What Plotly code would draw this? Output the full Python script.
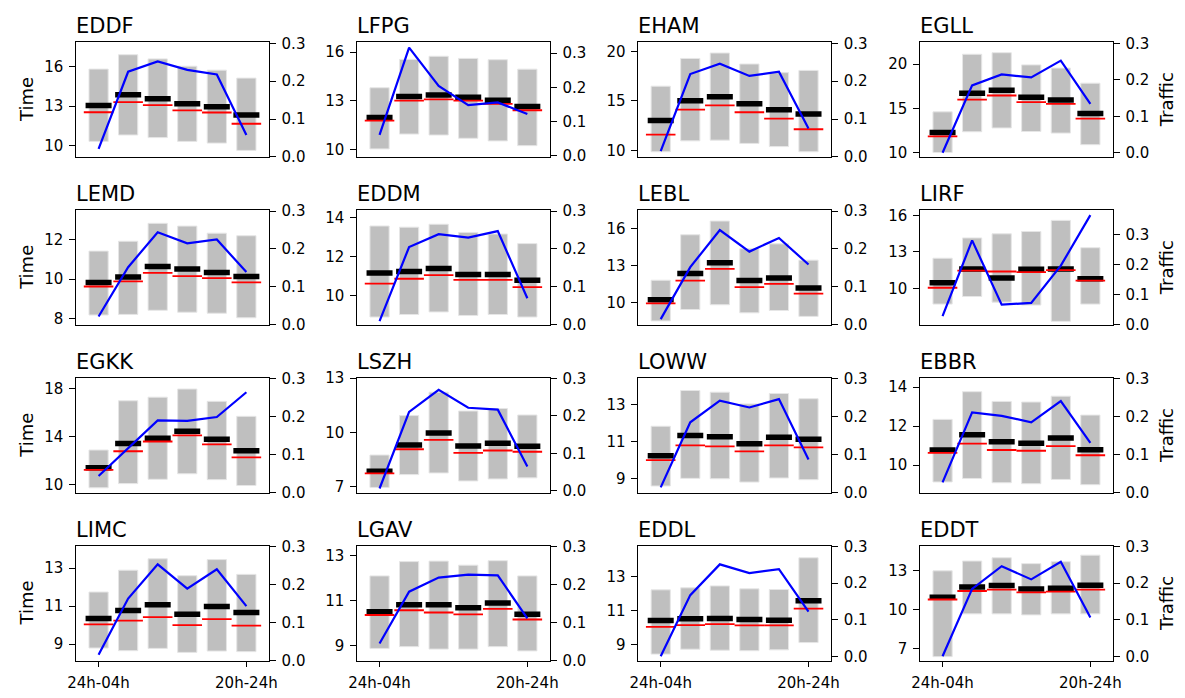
import plotly.graph_objects as go

# Airports, one panel each (4 x 4 grid, row-major)
airports = ["EDDF", "LFPG", "EHAM", "EGLL",
            "LEMD", "EDDM", "LEBL", "LIRF",
            "EGKK", "LSZH", "LOWW", "EBBR",
            "LIMC", "LGAV", "EDDL", "EDDT"]

# Six 4-hour slots; only the first and last are labelled
slot_pos = [0, 1, 2, 3, 4, 5]
slot_tick_pos = [0, 5]
slot_tick_text = ["24h-04h", "20h-24h"]

# Time spread per slot (grey bars: low..high)
time_low = [
    [10.30, 10.79, 10.59, 10.30, 10.17, 9.61],
    [10.06, 10.97, 10.91, 10.71, 10.55, 10.26],
    [9.87, 10.97, 11.04, 10.71, 10.39, 9.87],
    [10.00, 12.35, 12.78, 12.38, 12.20, 10.89],
    [8.17, 8.20, 8.41, 8.31, 8.26, 8.03],
    [8.92, 9.05, 9.18, 9.00, 9.05, 8.92],
    [8.49, 9.42, 9.81, 9.15, 9.34, 8.86],
    [8.73, 9.35, 8.89, 8.65, 7.32, 8.73],
    [9.73, 10.08, 10.44, 10.90, 10.41, 9.92],
    [6.97, 7.68, 7.77, 7.33, 7.44, 7.50],
    [8.61, 9.02, 9.00, 8.82, 9.04, 8.95],
    [9.14, 9.32, 9.10, 9.05, 9.27, 9.00],
    [8.79, 8.65, 8.77, 8.56, 8.63, 8.60],
    [8.88, 8.96, 8.85, 8.85, 8.96, 8.77],
    [8.42, 8.71, 8.65, 8.62, 8.67, 9.10],
    [6.40, 9.68, 9.68, 9.60, 9.68, 9.68],
]
time_high = [
    [15.83, 16.93, 16.61, 16.05, 15.75, 15.14],
    [13.81, 15.55, 15.74, 15.61, 15.53, 14.95],
    [16.49, 19.29, 19.84, 18.73, 17.86, 18.08],
    [14.60, 21.11, 21.29, 19.91, 19.55, 17.84],
    [11.42, 11.92, 12.83, 12.69, 12.33, 12.20],
    [13.58, 13.52, 13.67, 13.25, 13.17, 12.68],
    [11.81, 15.52, 16.64, 14.38, 14.78, 13.45],
    [12.49, 14.15, 14.49, 14.68, 15.59, 13.35],
    [12.88, 16.99, 17.29, 17.97, 16.94, 15.69],
    [8.76, 10.94, 12.23, 11.19, 11.33, 10.97],
    [11.82, 13.74, 13.65, 13.02, 13.58, 13.30],
    [12.35, 13.77, 13.27, 13.24, 13.54, 12.57],
    [11.74, 12.89, 13.49, 12.60, 13.45, 12.67],
    [12.11, 12.75, 12.77, 12.59, 12.79, 12.11],
    [12.21, 12.33, 12.44, 12.27, 12.23, 14.10],
    [12.98, 13.73, 13.98, 13.53, 13.68, 14.18],
]
# Mean time per slot (thick black marks)
time_mean = [
    [13.05, 13.86, 13.57, 13.17, 12.95, 12.31],
    [11.99, 13.28, 13.36, 13.22, 13.04, 12.66],
    [13.02, 15.03, 15.42, 14.71, 14.12, 13.67],
    [12.27, 16.71, 17.04, 16.24, 15.95, 14.42],
    [9.82, 10.10, 10.64, 10.51, 10.33, 10.13],
    [11.17, 11.25, 11.40, 11.10, 11.10, 10.80],
    [10.21, 12.36, 13.24, 11.78, 11.99, 11.17],
    [10.47, 11.61, 10.87, 11.59, 11.61, 10.81],
    [11.41, 13.43, 13.86, 14.44, 13.78, 12.83],
    [7.87, 9.32, 9.98, 9.26, 9.41, 9.24],
    [10.23, 11.32, 11.25, 10.88, 11.23, 11.12],
    [10.78, 11.56, 11.20, 11.13, 11.40, 10.79],
    [10.35, 10.76, 11.07, 10.57, 10.98, 10.66],
    [10.51, 10.83, 10.83, 10.69, 10.90, 10.40],
    [10.40, 10.50, 10.52, 10.46, 10.42, 11.56],
    [10.95, 11.73, 11.85, 11.58, 11.65, 11.88],
]
# Median time per slot (thin red marks)
time_median = [
    [12.53, 13.30, 13.07, 12.68, 12.51, 11.65],
    [11.80, 13.02, 13.10, 13.02, 12.82, 12.43],
    [11.59, 14.12, 14.55, 13.86, 13.21, 12.14],
    [11.84, 15.98, 16.45, 15.69, 15.51, 13.84],
    [9.62, 9.88, 10.31, 10.15, 10.05, 9.83],
    [10.63, 10.88, 11.07, 10.82, 10.82, 10.45],
    [9.92, 11.78, 12.73, 11.25, 11.51, 10.72],
    [10.07, 11.48, 11.40, 11.35, 11.51, 10.65],
    [11.22, 12.78, 13.59, 14.11, 13.35, 12.26],
    [7.75, 9.08, 9.60, 8.88, 9.01, 8.94],
    [10.00, 10.79, 10.74, 10.47, 10.79, 10.68],
    [10.63, 11.11, 10.78, 10.74, 10.98, 10.51],
    [10.04, 10.23, 10.42, 10.00, 10.31, 9.97],
    [10.37, 10.58, 10.48, 10.40, 10.64, 10.17],
    [10.02, 10.13, 10.19, 10.12, 10.12, 11.10],
    [10.78, 11.43, 11.53, 11.33, 11.38, 11.53],
]
# Traffic share per slot (blue line, right axis)
traffic = [
    [0.021, 0.225, 0.252, 0.230, 0.218, 0.058],
    [0.061, 0.316, 0.204, 0.148, 0.156, 0.122],
    [0.015, 0.219, 0.246, 0.214, 0.225, 0.075],
    [0.000, 0.185, 0.215, 0.207, 0.253, 0.134],
    [0.022, 0.152, 0.244, 0.215, 0.225, 0.139],
    [0.010, 0.205, 0.239, 0.230, 0.247, 0.070],
    [0.015, 0.152, 0.250, 0.193, 0.229, 0.159],
    [0.029, 0.281, 0.067, 0.073, 0.197, 0.365],
    [0.044, 0.118, 0.190, 0.189, 0.199, 0.264],
    [0.006, 0.211, 0.270, 0.222, 0.217, 0.065],
    [0.014, 0.185, 0.242, 0.224, 0.246, 0.087],
    [0.027, 0.211, 0.202, 0.185, 0.241, 0.131],
    [0.015, 0.163, 0.253, 0.189, 0.240, 0.143],
    [0.045, 0.181, 0.218, 0.226, 0.224, 0.111],
    [0.000, 0.167, 0.251, 0.227, 0.238, 0.122],
    [0.000, 0.184, 0.246, 0.210, 0.258, 0.106],
]

# Left-axis tick values per panel
time_ticks = [
    [10, 13, 16], [10, 13, 16], [10, 15, 20], [10, 15, 20],
    [8, 10, 12], [10, 12, 14], [10, 13, 16], [10, 13, 16],
    [10, 14, 18], [7, 10, 13], [9, 11, 13], [10, 12, 14],
    [9, 11, 13], [9, 11, 13], [9, 11, 13], [7, 10, 13],
]
traffic_ticks = [0.0, 0.1, 0.2, 0.3]

# Axis view limits per panel
time_range = [
    [9.115, 17.87], [9.57, 16.59], [9.35, 20.91], [9.51, 22.45],
    [7.67, 13.49], [8.52, 14.38], [8.17, 17.51], [7.03, 16.41],
    [9.32, 18.87], [6.68, 13.0], [8.25, 14.40], [8.59, 14.46],
    [8.13, 14.16], [8.34, 13.44], [8.04, 14.79], [6.10, 14.875],
]
traffic_range = [
    [0.0, 0.3025], [-0.003, 0.331], [0.0, 0.3025], [-0.0115, 0.303],
    [0.0, 0.3017], [0.0, 0.3017], [0.0, 0.3017], [0.0, 0.381],
    [0.0, 0.3009], [-0.0052, 0.301], [0.0, 0.3009], [0.0, 0.3009],
    [0.0, 0.3009], [0.0, 0.3009], [-0.0116, 0.3009], [-0.0116, 0.3009],
]

W, H = 1185, 698
col_left = [68.0, 353.3, 638.8, 925.0]
panel_w = 196.0
row_top = [34.3, 206.7, 379.0, 551.3]
panel_h = 117.5
x_range = [-0.765, 5.765]
time_label_x = 17.5      # px, centre of the left axis label
traffic_label_x = 1175.5  # px, centre of the right axis label

FONT = "DejaVu Sans"
TICK_FS = 15
TITLE_FS = 21
LABEL_FS = 18


def segments(values, half):
    xs, ys = [], []
    for p, v in zip(slot_pos, values):
        xs += [p - half, p + half, None]
        ys += [v, v, None]
    return xs, ys


fig = go.Figure()
layout = dict(
    width=W, height=H,
    margin=dict(l=0, r=0, t=0, b=0),
    paper_bgcolor="white", plot_bgcolor="white",
    showlegend=False,
    font=dict(family=FONT, size=TICK_FS, color="black"),
    annotations=[],
)

for k, name in enumerate(airports):
    r, c = divmod(k, 4)
    xi = k + 1
    yl = 2 * k + 1
    yr = 2 * k + 2
    xname = "x" if xi == 1 else f"x{xi}"
    ylname = "y" if yl == 1 else f"y{yl}"
    yrname = f"y{yr}"

    low = time_low[k]
    high = time_high[k]
    fig.add_trace(go.Bar(
        x=slot_pos, y=[h - l for h, l in zip(high, low)], base=low,
        width=0.65, marker=dict(color="#bfbfbf", line=dict(color="#e6e6e6", width=1)),
        xaxis=xname, yaxis=ylname, hoverinfo="skip"))
    mx, my = segments(time_mean[k], 0.44)
    fig.add_trace(go.Scatter(
        x=mx, y=my, mode="lines", line=dict(color="black", width=5.5),
        xaxis=xname, yaxis=ylname, hoverinfo="skip"))
    rx, ry = segments(time_median[k], 0.5)
    fig.add_trace(go.Scatter(
        x=rx, y=ry, mode="lines", line=dict(color="red", width=1.8),
        xaxis=xname, yaxis=ylname, hoverinfo="skip"))
    fig.add_trace(go.Scatter(
        x=slot_pos, y=traffic[k], mode="lines", line=dict(color="blue", width=2.2),
        xaxis=xname, yaxis=yrname, hoverinfo="skip"))

    x0 = col_left[c] / W
    x1 = (col_left[c] + panel_w) / W
    y1 = 1 - row_top[r] / H
    y0 = 1 - (row_top[r] + panel_h) / H
    bottom_row = r == 3

    xkey = "xaxis" if xi == 1 else f"xaxis{xi}"
    layout[xkey] = dict(
        domain=[x0, x1], anchor=ylname, range=x_range,
        showgrid=False, zeroline=False,
        showline=True, linecolor="black", linewidth=1.2, mirror=True,
        tickmode="array",
        tickvals=slot_tick_pos if bottom_row else [],
        ticktext=slot_tick_text if bottom_row else [],
        ticks="outside" if bottom_row else "", ticklen=5.5, tickwidth=1.2,
        tickcolor="black", ticklabelstandoff=3,
        tickfont=dict(family=FONT, size=TICK_FS, color="black"),
    )
    ylkey = "yaxis" if yl == 1 else f"yaxis{yl}"
    layout[ylkey] = dict(
        domain=[y0, y1], anchor=xname, range=time_range[k],
        showgrid=False, zeroline=False,
        showline=True, linecolor="black", linewidth=1.2, mirror=True,
        tickmode="array", tickvals=time_ticks[k],
        ticks="outside", ticklen=5.5, tickwidth=1.2, tickcolor="black",
        ticklabelstandoff=3,
        tickfont=dict(family=FONT, size=TICK_FS, color="black"),
    )
    layout[f"yaxis{yr}"] = dict(
        overlaying=ylname, side="right", anchor=xname,
        range=traffic_range[k],
        showgrid=False, zeroline=False,
        showline=True, linecolor="black", linewidth=1.2,
        tickmode="array", tickvals=traffic_ticks, tickformat=".1f",
        ticks="outside", ticklen=5.5, tickwidth=1.2, tickcolor="black",
        ticklabelstandoff=3,
        tickfont=dict(family=FONT, size=TICK_FS, color="black"),
    )
    layout["annotations"].append(dict(
        text=name, xref="paper", yref="paper", x=x0, y=y1,
        xanchor="left", yanchor="bottom", yshift=2, xshift=-2, showarrow=False,
        font=dict(family=FONT, size=TITLE_FS, color="black"),
    ))
    ymid = (y0 + y1) / 2
    if c == 0:
        layout["annotations"].append(dict(
            text="Time", xref="paper", yref="paper", x=time_label_x / W, y=ymid,
            xanchor="center", yanchor="middle", textangle=-90, showarrow=False,
            font=dict(family=FONT, size=LABEL_FS, color="black"),
        ))
    if c == 3:
        layout["annotations"].append(dict(
            text="Traffic", xref="paper", yref="paper", x=traffic_label_x / W, y=ymid,
            xanchor="center", yanchor="middle", textangle=-90, showarrow=False,
            font=dict(family=FONT, size=LABEL_FS, color="black"),
        ))

fig.update_layout(**layout)
fig.write_html("out.html")
